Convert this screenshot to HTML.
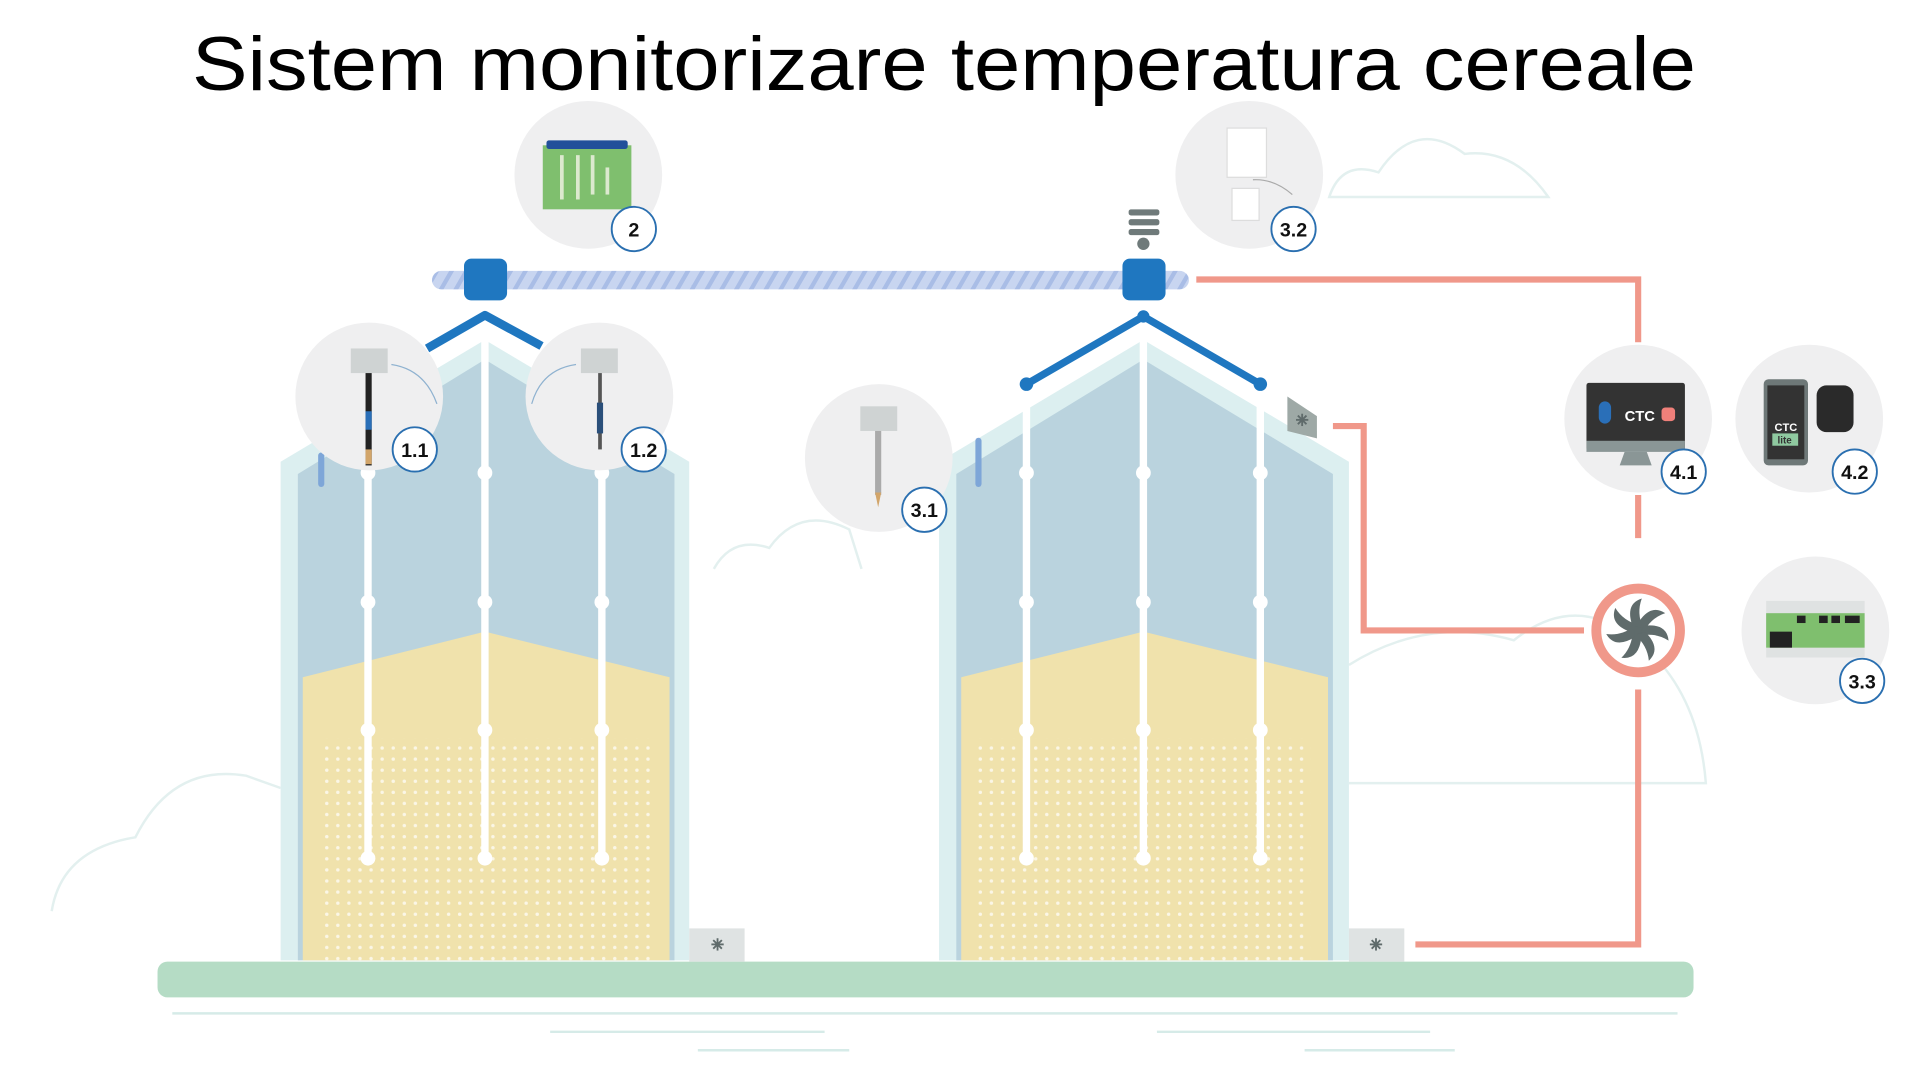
<!DOCTYPE html>
<html><head><meta charset="utf-8"><style>
html,body{margin:0;padding:0;background:#fff;}
svg{display:block}
</style></head><body>
<svg width="1920" height="1086" viewBox="0 0 1560 882" preserveAspectRatio="none" xmlns="http://www.w3.org/2000/svg">
<defs>
<pattern id="dots" width="9" height="9" patternUnits="userSpaceOnUse"><circle cx="4.5" cy="4.5" r="1.4" fill="#fff" opacity="0.7"/></pattern>
<pattern id="stripe" width="12" height="14" patternUnits="userSpaceOnUse" patternTransform="skewX(-30)"><rect width="12" height="14" fill="#c8d5f0"/><rect x="0" width="4" height="14" fill="#a9bde6"/></pattern>
<g id="fanicon"><circle r="6" fill="none"/><g stroke="#5f6b6b" stroke-width="1.5"><line x1="-5" y1="0" x2="5" y2="0"/><line x1="0" y1="-5" x2="0" y2="5"/><line x1="-3.5" y1="-3.5" x2="3.5" y2="3.5"/><line x1="-3.5" y1="3.5" x2="3.5" y2="-3.5"/></g></g>
</defs>
<!-- clouds faint -->
<g fill="none" stroke="#e3f0ef" stroke-width="2">
<path d="M1080 160 Q1090 130 1120 140 Q1150 95 1190 125 Q1230 120 1258 160 Z"/>
<path d="M580 462 Q595 435 625 445 Q650 410 690 430 L700 462"/>
<path d="M42 740 Q50 690 110 680 Q140 620 200 630 L228 640"/>
<path d="M1096 540 Q1160 500 1230 520 Q1280 480 1330 520 Q1380 560 1386 636 L1096 636"/>
</g>
<!-- bottom faint lines -->
<g stroke="#d6ebe8" stroke-width="2">
<line x1="140" y1="823" x2="1363" y2="823"/>
<line x1="447" y1="838" x2="670" y2="838"/>
<line x1="567" y1="853" x2="690" y2="853"/>
<line x1="940" y1="838" x2="1162" y2="838"/>
<line x1="1060" y1="853" x2="1182" y2="853"/>
</g>
<!-- title -->
<text x="767" y="73" text-anchor="middle" font-family="Liberation Sans, sans-serif" font-size="62" fill="#000" textLength="1222" lengthAdjust="spacingAndGlyphs">Sistem monitorizare temperatura cereale</text>

<!-- silos -->
<g id="silo1">
<polygon points="228,780 228,375 394,276 560,375 560,780" fill="#dceff0"/>
<polygon points="242,780 242,385 394,292 548,385 548,780" fill="#bad3de"/>
<polygon points="246,780 246,550 394,513 544,550 544,780" fill="#f0e2ac"/>
<polygon points="258,780 258,600 530,600 530,780" fill="url(#dots)"/>
</g>
<polygon points="763,780 763,375 929,276 1096,375 1096,780" fill="#dceff0"/>
<polygon points="777,780 777,385 929,292 1083,385 1083,780" fill="#bad3de"/>
<polygon points="781,780 781,550 929,513 1079,550 1079,780" fill="url(#g)" style="fill:#f0e2ac"/>
<polygon points="793,780 793,600 1065,600 1065,780" fill="url(#dots)"/>

<!-- small blue bars -->
<line x1="261" y1="370" x2="261" y2="393" stroke="#7ea6d8" stroke-width="5" stroke-linecap="round"/>
<line x1="795" y1="358" x2="795" y2="393" stroke="#7ea6d8" stroke-width="5" stroke-linecap="round"/>

<!-- cables -->
<g stroke="#fff" stroke-width="6" fill="#fff">
<line x1="299" y1="300" x2="299" y2="697"/><line x1="394" y1="262" x2="394" y2="697"/><line x1="489" y1="300" x2="489" y2="697"/>
<line x1="834" y1="312" x2="834" y2="697"/><line x1="929" y1="262" x2="929" y2="697"/><line x1="1024" y1="312" x2="1024" y2="697"/>
</g>
<g fill="#fff">
<circle cx="299" cy="384" r="6"/><circle cx="394" cy="384" r="6"/><circle cx="489" cy="384" r="6"/>
<circle cx="299" cy="489" r="6"/><circle cx="394" cy="489" r="6"/><circle cx="489" cy="489" r="6"/>
<circle cx="299" cy="593" r="6"/><circle cx="394" cy="593" r="6"/><circle cx="489" cy="593" r="6"/>
<circle cx="299" cy="697" r="6"/><circle cx="394" cy="697" r="6"/><circle cx="489" cy="697" r="6"/>
<circle cx="834" cy="384" r="6"/><circle cx="929" cy="384" r="6"/><circle cx="1024" cy="384" r="6"/>
<circle cx="834" cy="489" r="6"/><circle cx="929" cy="489" r="6"/><circle cx="1024" cy="489" r="6"/>
<circle cx="834" cy="593" r="6"/><circle cx="929" cy="593" r="6"/><circle cx="1024" cy="593" r="6"/>
<circle cx="834" cy="697" r="6"/><circle cx="929" cy="697" r="6"/><circle cx="1024" cy="697" r="6"/>
</g>

<!-- blue V -->
<polyline points="347,283 394,256 440,281" fill="none" stroke="#1f77c0" stroke-width="7" stroke-linejoin="round"/>
<polyline points="834,312 929,257 1024,312" fill="none" stroke="#1f77c0" stroke-width="6" stroke-linejoin="round"/>
<circle cx="834" cy="312" r="5.5" fill="#1f77c0"/><circle cx="1024" cy="312" r="5.5" fill="#1f77c0"/><circle cx="929" cy="257" r="5" fill="#1f77c0"/>

<!-- pipe -->
<rect x="351" y="220" width="615" height="15" rx="7.5" fill="url(#stripe)"/>
<rect x="377" y="210" width="35" height="34" rx="6" fill="#1f77c0"/>
<rect x="912" y="210" width="35" height="34" rx="6" fill="#1f77c0"/>
<!-- antenna -->
<g fill="#6f7a7a"><rect x="917" y="170" width="25" height="5" rx="2"/><rect x="917" y="178" width="25" height="5" rx="2"/><rect x="917" y="186" width="25" height="5" rx="2"/><circle cx="929" cy="198" r="5"/></g>

<!-- ground -->
<rect x="128" y="781" width="1248" height="29" rx="8" fill="#b5dcc5"/>
<!-- small fans -->
<rect x="560" y="754" width="45" height="27" fill="#dfe3e3"/><use href="#fanicon" x="583" y="767"/>
<rect x="1096" y="754" width="45" height="27" fill="#dfe3e3"/><use href="#fanicon" x="1118" y="767"/>
<polygon points="1046,322 1070,338 1070,356 1046,350" fill="#9ea9a6"/><use href="#fanicon" x="1058" y="341"/>

<!-- salmon lines -->
<g fill="none" stroke="#f0988a" stroke-width="5">
<polyline points="972,227 1331,227 1331,278"/>
<line x1="1331" y1="402" x2="1331" y2="437"/>
<polyline points="1287,512 1108,512 1108,346 1083,346"/>
<polyline points="1331,560 1331,767 1150,767"/>
</g>
<circle cx="1331" cy="512" r="34" fill="#fff" stroke="#f0988a" stroke-width="8"/>
<g fill="#5f6b6b" transform="translate(1331,512)">
<circle r="8"/>
<g id="bl"><path d="M0,-6 Q10,-22 22,-14 Q10,-10 4,2 Z"/></g>
<use href="#bl" transform="rotate(51)"/><use href="#bl" transform="rotate(103)"/><use href="#bl" transform="rotate(154)"/><use href="#bl" transform="rotate(206)"/><use href="#bl" transform="rotate(257)"/><use href="#bl" transform="rotate(309)"/>
</g>

<!-- device circles -->
<g fill="#efeff0">
<circle cx="478" cy="142" r="60"/><circle cx="1015" cy="142" r="60"/>
<circle cx="300" cy="322" r="60"/><circle cx="487" cy="322" r="60"/>
<circle cx="714" cy="372" r="60"/>
<circle cx="1331" cy="340" r="60"/><circle cx="1470" cy="340" r="60"/>
<circle cx="1475" cy="512" r="60"/>
</g>
<!-- device icons -->
<rect x="441" y="118" width="72" height="52" fill="#7fbf6e"/><rect x="444" y="114" width="66" height="7" rx="2" fill="#22509a"/>
<g fill="#f4f4e8" opacity="0.8"><rect x="455" y="126" width="3" height="36"/><rect x="468" y="126" width="3" height="36"/><rect x="480" y="126" width="3" height="32"/><rect x="492" y="136" width="3" height="22"/></g>
<!-- 3.2 sensor -->
<g fill="#fff" stroke="#ddd"><rect x="997" y="104" width="32" height="40"/><rect x="1001" y="153" width="22" height="26"/></g>
<path d="M1018 146 Q1035 145 1050 158" stroke="#aaa" fill="none"/>
<!-- 1.1 / 1.2 probes -->
<rect x="285" y="283" width="30" height="20" fill="#cfd3d3"/><rect x="297" y="303" width="5" height="75" fill="#222"/><rect x="297" y="334" width="5" height="15" fill="#2a6fb8"/><rect x="297" y="365" width="5" height="12" fill="#d2a56a"/>
<path d="M318 296 Q345 300 355 328" stroke="#8fb2d0" fill="none"/>
<rect x="472" y="283" width="30" height="20" fill="#cfd3d3"/><rect x="486" y="303" width="3" height="62" fill="#555"/><rect x="485" y="327" width="5" height="25" fill="#2a4f7a"/>
<path d="M468 296 Q440 300 432 328" stroke="#8fb2d0" fill="none"/>
<!-- 3.1 probe -->
<rect x="699" y="330" width="30" height="20" fill="#cfd3d3"/><rect x="711" y="350" width="5" height="52" fill="#aaa"/><polygon points="711,400 716,400 713.5,412" fill="#d2a56a"/>
<!-- 4.1 monitor -->
<rect x="1289" y="311" width="80" height="55" rx="2" fill="#333"/><rect x="1289" y="358" width="80" height="9" fill="#8a9696"/><polygon points="1320,367 1338,367 1342,378 1316,378" fill="#8a9696"/>
<text x="1320" y="342" font-family="Liberation Sans, sans-serif" font-weight="bold" font-size="12" fill="#fff">CTC</text>
<rect x="1350" y="331" width="11" height="11" rx="3" fill="#f0807a"/>
<rect x="1299" y="326" width="10" height="18" rx="5" fill="#2a6fb8"/>
<!-- 4.2 phone -->
<rect x="1433" y="308" width="36" height="70" rx="4" fill="#6e7878"/><rect x="1436" y="313" width="30" height="60" fill="#333"/>
<text x="1451" y="350" text-anchor="middle" font-family="Liberation Sans, sans-serif" font-weight="bold" font-size="9" fill="#fff">CTC</text>
<rect x="1440" y="352" width="21" height="10" fill="#8fc9a0"/><text x="1450" y="360" text-anchor="middle" font-family="Liberation Sans, sans-serif" font-weight="bold" font-size="8" fill="#333">lite</text>
<rect x="1476" y="313" width="30" height="38" rx="8" fill="#2a2a2a"/>
<!-- 3.3 board -->
<rect x="1435" y="488" width="80" height="46" fill="#dfe2e2"/><rect x="1435" y="498" width="80" height="28" fill="#7fbf6e"/>
<g fill="#222"><rect x="1460" y="500" width="7" height="6"/><rect x="1478" y="500" width="7" height="6"/><rect x="1488" y="500" width="7" height="6"/><rect x="1499" y="500" width="12" height="6"/><rect x="1438" y="513" width="18" height="13"/></g>

<!-- labels -->
<g fill="#fff" stroke="#2a6fb0" stroke-width="1.5">
<circle cx="515" cy="186" r="18"/><circle cx="1051" cy="186" r="18"/>
<circle cx="337" cy="365" r="18"/><circle cx="523" cy="365" r="18"/>
<circle cx="751" cy="414" r="18"/>
<circle cx="1368" cy="383" r="18"/><circle cx="1507" cy="383" r="18"/>
<circle cx="1513" cy="553" r="18"/>
</g>
<g font-family="Liberation Sans, sans-serif" font-weight="bold" font-size="16" fill="#111" text-anchor="middle">
<text x="515" y="192">2</text><text x="1051" y="192">3.2</text>
<text x="337" y="371">1.1</text><text x="523" y="371">1.2</text>
<text x="751" y="420">3.1</text>
<text x="1368" y="389">4.1</text><text x="1507" y="389">4.2</text>
<text x="1513" y="559">3.3</text>
</g>
</svg>
</body></html>
